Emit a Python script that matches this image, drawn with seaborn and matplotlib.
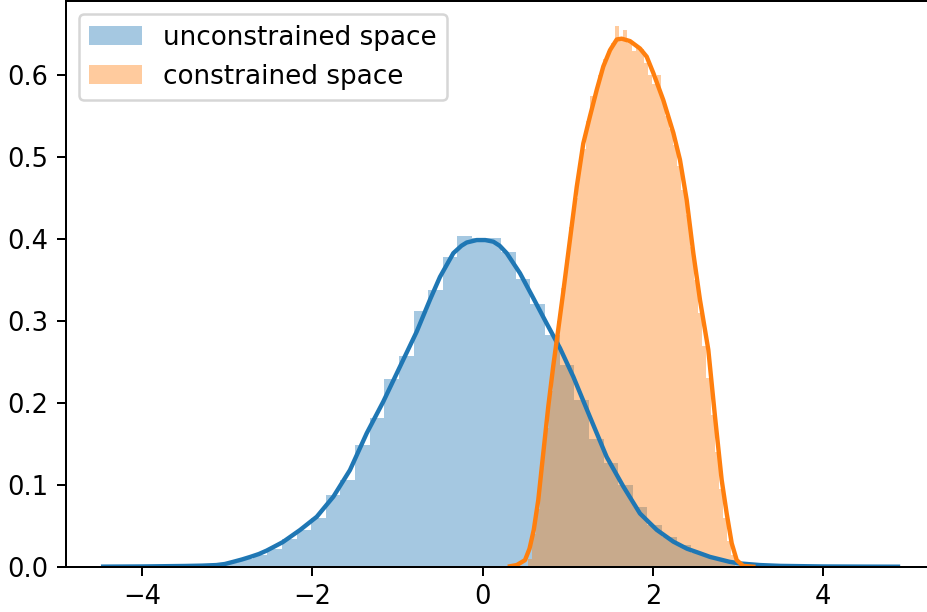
import numpy as np
import pandas as pd
import matplotlib
matplotlib.use("Agg")
import matplotlib.pyplot as plt
from matplotlib.patches import Patch
import seaborn as sns

# ---------------- data ----------------
labels = ["unconstrained space", "constrained space"]

# unconstrained: 50 bins
unc_bin_start = -4.077
unc_bin_width = 0.1718
unc_heights = [0.0002, 0.0003, 0.0005, 0.001, 0.002, 0.003, 0.005, 0.009, 0.014, 0.022,
               0.034, 0.0448, 0.060, 0.0876, 0.106, 0.1487, 0.182, 0.229, 0.257, 0.3125,
               0.338, 0.378, 0.404, 0.402, 0.401, 0.384, 0.352, 0.321, 0.283, 0.246,
               0.204, 0.156, 0.127, 0.0998, 0.0726, 0.051, 0.0367, 0.0265, 0.0165, 0.011,
               0.0065, 0.004, 0.0025, 0.0015, 0.0008, 0.0005, 0.0003, 0.0002, 0.0001, 0.0001]

unc_kde_x = [-4.46, -4.0, -3.5, -3.3, -3.13, -3.03, -2.93, -2.83, -2.73, -2.63, -2.54, -2.45,
             -2.35, -2.147, -1.95, -1.755, -1.56, -1.363, -1.168, -0.972, -0.776, -0.62,
             -0.502, -0.345, -0.25, -0.188, -0.07, 0.03, 0.125, 0.2, 0.282, 0.438, 0.595,
             0.752, 0.908, 1.065, 1.26, 1.457, 1.652, 1.848, 2.045, 2.24, 2.40, 2.553, 2.67,
             2.785, 2.9, 3.02, 3.26, 3.5, 4.0, 4.5, 4.88]
unc_kde_y = [0.0001, 0.0003, 0.0009, 0.0013, 0.002, 0.0033, 0.006, 0.0088, 0.012, 0.0155,
             0.0196, 0.0245, 0.030, 0.0448, 0.061, 0.0855, 0.118, 0.163, 0.2017, 0.2444,
             0.287, 0.326, 0.354, 0.383, 0.392, 0.396, 0.399, 0.399, 0.397, 0.392, 0.383,
             0.3585, 0.328, 0.297, 0.267, 0.232, 0.183, 0.134, 0.098, 0.065, 0.045, 0.0306,
             0.022, 0.0164, 0.012, 0.009, 0.006, 0.004, 0.002, 0.001, 0.0003, 0.0001, 0.0]

# constrained: 50 bins
con_bin_start = 0.53
con_bin_width = 0.0488
con_heights = [0.01, 0.04, 0.07, 0.12, 0.17, 0.215, 0.26, 0.30, 0.34, 0.375,
               0.415, 0.45, 0.49, 0.51, 0.545, 0.575, 0.58, 0.60, 0.62, 0.63,
               0.64, 0.66, 0.645, 0.655, 0.64, 0.63, 0.635, 0.632, 0.615, 0.60,
               0.59, 0.60, 0.57, 0.55, 0.535, 0.515, 0.49, 0.46, 0.43, 0.39,
               0.35, 0.31, 0.27, 0.23, 0.185, 0.14, 0.095, 0.06, 0.032, 0.014]

con_kde_x = [0.32, 0.40, 0.497, 0.55, 0.60, 0.653, 0.712, 0.771, 0.83, 0.888, 0.947, 1.026,
             1.105, 1.182, 1.26, 1.34, 1.417, 1.496, 1.575, 1.633, 1.731, 1.848, 1.927,
             2.005, 2.122, 2.24, 2.318, 2.397, 2.475, 2.553, 2.651, 2.73, 2.808, 2.867,
             2.926, 2.985, 3.06, 3.18]
con_kde_y = [0.0005, 0.002, 0.008, 0.022, 0.045, 0.0815, 0.139, 0.196, 0.246, 0.290, 0.336, 0.400,
             0.464, 0.517, 0.55, 0.5825, 0.611, 0.631, 0.644, 0.645, 0.642, 0.633, 0.623,
             0.603, 0.570, 0.53, 0.497, 0.448, 0.383, 0.326, 0.265, 0.183, 0.106, 0.065,
             0.0286, 0.008, 0.001, 0.0]

# ---------------- plotting ----------------
plt.rcParams["font.family"] = ["DejaVu Sans"]
plt.rcParams["font.size"] = 10.3

W, H, DPI = 927, 612, 180
fig = plt.figure(figsize=(W / DPI, H / DPI), dpi=DPI)
left_px, right_px, top_px, bottom_px = 65.7, 938.0, 1.0, 566.7
ax = fig.add_axes([left_px / W, 1 - bottom_px / H,
                   (right_px - left_px) / W, (bottom_px - top_px) / H])

colors = ["#1f77b4", "#ff7f0e"]

def draw(start, width, heights, kx, ky, color):
    n = len(heights)
    edges = [float(start + width * i) for i in range(n + 1)]
    centers = [(edges[i] + edges[i + 1]) / 2 for i in range(n)]
    df = pd.DataFrame({"x": centers, "w": heights})
    sns.histplot(data=df, x="x", weights="w", bins=edges, stat="count",
                 element="bars", fill=True, color=color, alpha=0.4,
                 linewidth=0, ax=ax)
    kdf = pd.DataFrame({"x": kx, "y": ky})
    sns.lineplot(data=kdf, x="x", y="y", color=color, lw=1.75, ax=ax, sort=False)

draw(unc_bin_start, unc_bin_width, unc_heights, unc_kde_x, unc_kde_y, colors[0])
draw(con_bin_start, con_bin_width, con_heights, con_kde_x, con_kde_y, colors[1])

ax.set_xlim(-4.90, 5.35)
ax.set_ylim(0, 0.691)
ax.set_xticks([-4, -2, 0, 2, 4])
ax.set_yticks([0.0, 0.1, 0.2, 0.3, 0.4, 0.5, 0.6])
ax.set_xlabel("")
ax.set_ylabel("")

handles = [Patch(facecolor=c, alpha=0.4, edgecolor="none") for c in colors]
ax.legend(handles, labels, loc="upper left", fontsize=10.5)

fig.savefig("out.png", dpi=DPI)
